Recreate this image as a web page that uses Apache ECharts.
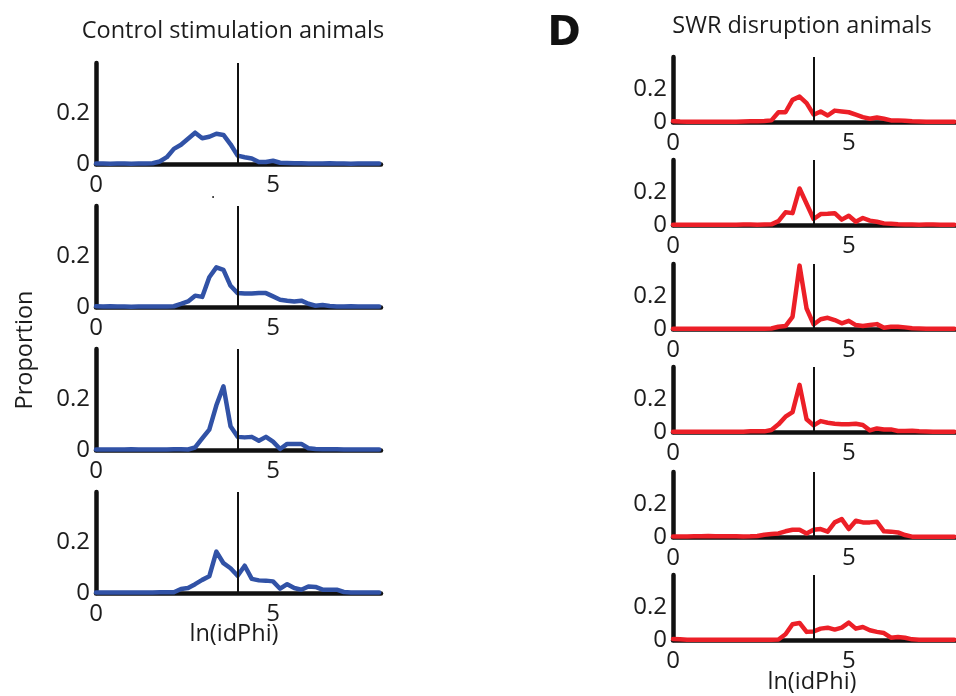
<!DOCTYPE html>
<html>
<head>
<meta charset="utf-8">
<script src="https://cdn.jsdelivr.net/npm/echarts@6/dist/echarts.min.js"></script>
<style>html,body{margin:0;padding:0;background:#fff}#c{width:956px;height:696px}</style>
</head>
<body>
<div id="c"></div>
<script>
// bin centres of ln(idPhi)
const bins = [0,0.2,0.4,0.6,0.8,1.0,1.2,1.4,1.6,1.8,2.0,2.2,2.4,2.6,2.8,3.0,3.2,3.4,3.6,3.8,4.0,4.2,4.4,4.6,4.8,5.0,5.2,5.4,5.6,5.8,6.0,6.2,6.4,6.6,6.8,7.0,7.2,7.4,7.6,7.8,8.0];
const thresholdX = 4;

// Control stimulation animals
const control1 = [0.002,0.002,0.001,0.002,0.002,0.001,0.002,0.002,0.003,0.01,0.027,0.06,0.076,0.10,0.124,0.102,0.108,0.12,0.115,0.078,0.033,0.027,0.022,0.008,0.008,0.013,0.005,0.004,0.003,0.003,0.002,0.002,0.002,0.003,0.002,0.002,0.001,0.002,0.002,0.002,0.002];
const control2 = [0.003,0.002,0.003,0.002,0.002,0.001,0.002,0.002,0.002,0.002,0.002,0.003,0.012,0.022,0.045,0.04,0.118,0.157,0.147,0.084,0.055,0.053,0.053,0.055,0.055,0.042,0.029,0.025,0.022,0.025,0.013,0.005,0.008,0.004,0.002,0.002,0.003,0.002,0.002,0.002,0.002];
const control3 = [0.002,0.002,0.002,0.002,0.002,0.003,0.002,0.002,0.002,0.002,0.002,0.003,0.003,0.002,0.01,0.046,0.081,0.177,0.252,0.094,0.052,0.05,0.052,0.037,0.052,0.033,0.004,0.024,0.024,0.024,0.007,0.004,0.003,0.003,0.003,0.002,0.002,0.002,0.002,0.002,0.002];
const control4 = [0.002,0.002,0.002,0.002,0.002,0.002,0.002,0.002,0.002,0.003,0.003,0.003,0.016,0.02,0.035,0.052,0.066,0.164,0.118,0.098,0.068,0.108,0.056,0.05,0.049,0.046,0.017,0.035,0.02,0.013,0.026,0.024,0.013,0.013,0.013,0.004,0.002,0.002,0.002,0.002,0.002];

// SWR disruption animals
const swr1 = [0.005,0.003,0.002,0.002,0.002,0.002,0.002,0.002,0.002,0.002,0.003,0.004,0.005,0.006,0.01,0.06,0.06,0.136,0.156,0.116,0.045,0.065,0.04,0.07,0.065,0.06,0.045,0.03,0.02,0.028,0.02,0.01,0.01,0.008,0.004,0.003,0.002,0.002,0.002,0.002,0.002];
const swr2 = [0.002,0.002,0.002,0.002,0.002,0.002,0.002,0.002,0.002,0.002,0.003,0.003,0.002,0.003,0.004,0.024,0.078,0.073,0.225,0.131,0.037,0.067,0.069,0.073,0.033,0.057,0.02,0.043,0.027,0.02,0.01,0.008,0.004,0.003,0.003,0.002,0.003,0.003,0.002,0.002,0.002];
const swr3 = [0.002,0.002,0.002,0.002,0.002,0.002,0.002,0.002,0.002,0.002,0.002,0.002,0.002,0.002,0.003,0.014,0.018,0.075,0.39,0.126,0.028,0.06,0.069,0.055,0.035,0.05,0.024,0.018,0.024,0.03,0.008,0.014,0.014,0.01,0.004,0.003,0.002,0.002,0.002,0.002,0.002];
const swr4 = [0.002,0.002,0.002,0.002,0.002,0.002,0.002,0.002,0.002,0.002,0.002,0.004,0.004,0.004,0.012,0.047,0.094,0.122,0.29,0.078,0.041,0.067,0.057,0.051,0.047,0.047,0.051,0.043,0.01,0.022,0.016,0.016,0.006,0.006,0.008,0.004,0.003,0.002,0.002,0.002,0.002];
const swr5 = [0.003,0.003,0.003,0.004,0.004,0.006,0.004,0.004,0.005,0.004,0.003,0.004,0.006,0.014,0.018,0.022,0.035,0.045,0.045,0.022,0.045,0.049,0.033,0.09,0.11,0.049,0.1,0.09,0.09,0.094,0.035,0.033,0.028,0.012,0.002,0.002,0.002,0.002,0.002,0.002,0.002];
const swr6 = [0.006,0.005,0.002,0.002,0.002,0.002,0.002,0.002,0.002,0.002,0.002,0.002,0.002,0.002,0.002,0.003,0.035,0.097,0.105,0.05,0.053,0.07,0.076,0.064,0.076,0.107,0.07,0.08,0.06,0.05,0.043,0.014,0.018,0.014,0.004,0.002,0.002,0.002,0.002,0.002,0.002];

const controlSeries = [control1, control2, control3, control4];
const swrSeries = [swr1, swr2, swr3, swr4, swr5, swr6];

const FONT = "'Open Sans', 'Noto Sans', sans-serif";
const BLUE = '#3152A6';
const RED = '#EC1F27';
const INK = '#1c1c1c';

const panels = [];
const leftTops = [63, 206, 349, 492];
controlSeries.forEach((d, i) => panels.push({data: d, color: BLUE, left: 96, top: leftTops[i], width: 285, height: 101}));
const rightTops = [57, 160, 264, 367, 472, 575];
swrSeries.forEach((d, i) => panels.push({data: d, color: RED, left: 673, top: rightTops[i], width: 285, height: 65}));

const grid = [], xAxis = [], yAxis = [], series = [];
panels.forEach((p, i) => {
  grid.push({left: p.left, top: p.top, width: p.width, height: p.height, containLabel: false});
  xAxis.push({
    type: 'value', gridIndex: i, min: 0, max: 8.05, interval: 5,
    axisLine: {show: true, onZero: false, lineStyle: {color: '#111', width: 4.5}},
    axisTick: {show: false}, splitLine: {show: false},
    axisLabel: {show: true, showMaxLabel: false, margin: 9, color: INK, fontSize: 24, fontFamily: FONT}
  });
  yAxis.push({
    type: 'value', gridIndex: i, min: 0, max: 0.4, interval: 0.2,
    axisLine: {show: true, lineStyle: {color: '#111', width: 4.5}},
    axisTick: {show: false}, splitLine: {show: false},
    axisLabel: {show: true, showMaxLabel: false, margin: 6, color: INK, fontSize: 24, fontFamily: FONT,
      formatter: v => (v === 0 ? '0' : String(v))}
  });
  series.push({
    type: 'line', xAxisIndex: i, yAxisIndex: i,
    data: bins.map((x, k) => [x, p.data[k]]),
    showSymbol: false, symbol: 'none', smooth: false,
    lineStyle: {color: p.color, width: 4.5, join: 'round', cap: 'round'},
    itemStyle: {color: p.color},
    animation: false,
    markLine: {
      silent: true, symbol: ['none', 'none'], label: {show: false},
      lineStyle: {color: '#111', width: 2, type: 'solid'},
      data: [{xAxis: thresholdX}], animation: false
    }
  });
});

const txt = (text, x, y, size, extra) => Object.assign({
  type: 'text', x: x, y: y,
  style: Object.assign({text: text, fill: INK, font: size + 'px ' + FONT, textAlign: 'center', textVerticalAlign: 'middle', align: 'center', verticalAlign: 'middle'}, extra || {})
});

const chart = echarts.init(document.getElementById('c'), null, {renderer: 'canvas'});
chart.setOption({
  animation: false,
  backgroundColor: '#fff',
  grid, xAxis, yAxis, series,
  graphic: [
    txt('Control stimulation animals', 233, 31, 23.5),
    txt('SWR disruption animals', 802, 26, 23.5),
    {type: 'text', x: 564, y: 35, style: {text: 'D', fill: '#111', font: 'bold 40px "DejaVu Sans", sans-serif', textAlign: 'center', textVerticalAlign: 'middle', align: 'center', verticalAlign: 'middle'}},
    Object.assign(txt('Proportion', 25, 350, 23.5), {rotation: Math.PI / 2}),
    txt('ln(idPhi)', 234, 634, 23.5),
    txt('ln(idPhi)', 812, 682, 23.5),
    txt('.', 213, 193, 16)
  ]
});
</script>
</body>
</html>
